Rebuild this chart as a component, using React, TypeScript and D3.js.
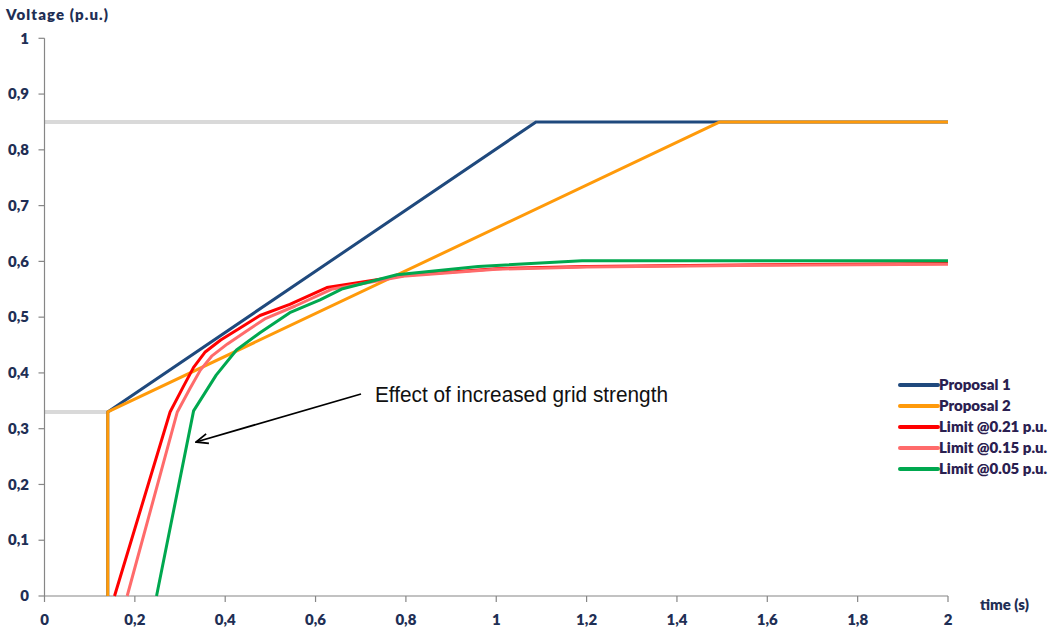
import React from "react";
import * as d3 from "d3";

type Pt = [number, number];

const xTicks = [0, 0.2, 0.4, 0.6, 0.8, 1, 1.2, 1.4, 1.6, 1.8, 2];
const yTicks = [0, 0.1, 0.2, 0.3, 0.4, 0.5, 0.6, 0.7, 0.8, 0.9, 1];

const proposal1: Pt[] = [[0.14, 0], [0.14, 0.33], [1.088, 0.85], [2, 0.85]];
const proposal2: Pt[] = [[0.14, 0], [0.14, 0.33], [1.495, 0.85], [2, 0.85]];
const limit021: Pt[] = [[0.155, 0], [0.278, 0.33], [0.307, 0.375], [0.33, 0.41], [0.355, 0.437], [0.39, 0.459], [0.432, 0.48], [0.477, 0.503], [0.543, 0.523], [0.625, 0.553], [0.8, 0.575], [1.0, 0.587], [1.2, 0.591], [1.6, 0.594], [2, 0.596]];
const limit015: Pt[] = [[0.183, 0], [0.294, 0.33], [0.322, 0.372], [0.345, 0.405], [0.37, 0.43], [0.405, 0.452], [0.445, 0.474], [0.49, 0.498], [0.555, 0.52], [0.635, 0.55], [0.8, 0.574], [1.0, 0.586], [1.2, 0.59], [1.6, 0.593], [2, 0.595]];
const limit005: Pt[] = [[0.248, 0], [0.33, 0.332], [0.38, 0.396], [0.425, 0.441], [0.477, 0.472], [0.543, 0.508], [0.61, 0.531], [0.66, 0.551], [0.78, 0.576], [0.96, 0.591], [1.19, 0.601], [2, 0.601]];

const refLines: Pt[][] = [
  [[0, 0.85], [1.088, 0.85]],
  [[0, 0.33], [0.14, 0.33]],
];

const seriesNames = ["Proposal 1", "Proposal 2", "Limit @0.21 p.u.", "Limit @0.15 p.u.", "Limit @0.05 p.u."];
const seriesData = [proposal1, proposal2, limit021, limit015, limit005];
const seriesColors = ["#1F497D", "#FF9A0A", "#FF0000", "#FF6B6B", "#00A84F"];

const annotation = "Effect of increased grid strength";

export default function App() {
  const W = 1058, H = 630;
  const x = d3.scaleLinear().domain([0, 2]).range([44.5, 948]);
  const y = d3.scaleLinear().domain([0, 1]).range([596, 38.3]);
  const line = d3.line<Pt>().x(d => x(d[0])).y(d => y(d[1]));
  const labelColor = "#1F2F55";
  const font = "Lato, 'Open Sans', sans-serif";
  const fs = 15;
  const legendY0 = 385;
  const legendStep = 21;

  return (
    <svg width={W} height={H} style={{ position: "absolute", left: 0, top: 0, background: "#fff" }}>
      <defs>
        <marker id="arr" viewBox="0 0 14 12" refX="13" refY="6" markerWidth="14" markerHeight="12" markerUnits="userSpaceOnUse" orient="auto">
          <path d="M1,1 L13,6 L1,11" fill="none" stroke="#000" strokeWidth={1.8} strokeLinejoin="miter" />
        </marker>
      </defs>
      {refLines.map((r, i) => (
        <path key={i} d={line(r) || ""} fill="none" stroke="#D9D9D9" strokeWidth={4} />
      ))}
      <line x1={x(0)} x2={x(0)} y1={y(1)} y2={y(0)} stroke="#868686" strokeWidth={1.2} />
      <line x1={x(0)} x2={x(2)} y1={y(0)} y2={y(0)} stroke="#868686" strokeWidth={1.2} />
      {yTicks.map(t => (
        <g key={"y" + t}>
          <line x1={x(0) - 6} x2={x(0)} y1={y(t)} y2={y(t)} stroke="#868686" strokeWidth={1.2} />
          <text x={29} y={y(t)} dy="0.35em" textAnchor="end" fontFamily={font} fontWeight={800} fontSize={fs} fill={labelColor}>
            {String(t).replace(".", ",")}
          </text>
        </g>
      ))}
      {xTicks.map(t => (
        <g key={"x" + t}>
          <line x1={x(t)} x2={x(t)} y1={y(0)} y2={y(0) + 6} stroke="#868686" strokeWidth={1.2} />
          <text x={x(t)} y={620} dy="0.35em" textAnchor="middle" fontFamily={font} fontWeight={800} fontSize={fs} fill={labelColor}>
            {String(t).replace(".", ",")}
          </text>
        </g>
      ))}
      <text x={6} y={15} dy="0.35em" fontFamily={font} fontWeight={800} fontSize={fs} textLength={102} lengthAdjust="spacing" fill={labelColor}>Voltage (p.u.)</text>
      <text x={980} y={605} dy="0.35em" fontFamily={font} fontWeight={800} fontSize={fs} fill={labelColor}>time (s)</text>
      {seriesData.map((s, i) => (
        <path key={i} d={line(s) || ""} fill="none" stroke={seriesColors[i]} strokeWidth={3} strokeLinejoin="round" />
      ))}
      <line x1={361} y1={394} x2={196} y2={442} stroke="#000" strokeWidth={1.8} markerEnd="url(#arr)" />
      <text x={375} y={402} fontFamily="'Liberation Sans', Arial, sans-serif" fontSize={22} textLength={293} lengthAdjust="spacingAndGlyphs" fill="#111">
        {annotation}
      </text>
      {seriesNames.map((n, i) => (
        <g key={n}>
          <line x1={900} x2={938} y1={legendY0 + i * legendStep} y2={legendY0 + i * legendStep} stroke={seriesColors[i]} strokeWidth={4} strokeLinecap="round" />
          <text x={939} y={legendY0 + i * legendStep} dy="0.35em" fontFamily={font} fontWeight={800} fontSize={fs} fill="#2A2050">{n}</text>
        </g>
      ))}
    </svg>
  );
}
